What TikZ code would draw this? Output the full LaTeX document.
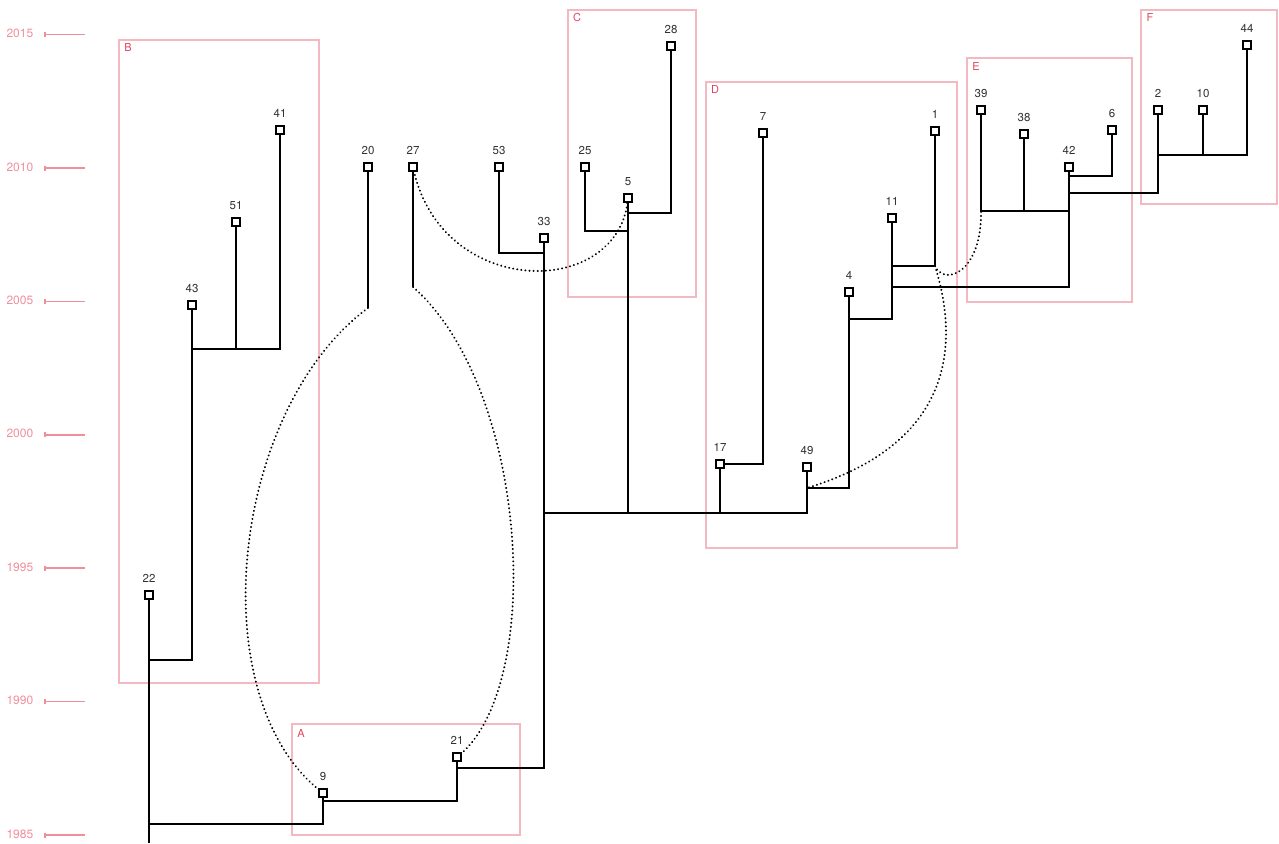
\documentclass[tikz,border=0pt]{standalone}
\usepackage{fontspec}
\setmainfont{TeX Gyre Heros}
\usepackage{tikz}
\definecolor{boxpink}{HTML}{F4B8C0}
\definecolor{axispink}{HTML}{F08E9C}
\definecolor{tagred}{HTML}{E2445E}
\definecolor{labgray}{HTML}{333333}

\begin{document}
\begin{tikzpicture}[x=1pt,y=-1pt,line width=1.6pt,
  leaf/.style={draw,fill=white,minimum size=8.5pt,inner sep=0pt,line width=1.6pt,
    label={[font=\fontsize{11.5}{12}\selectfont,text=labgray,label distance=3pt]above:#1}},
  grp/.style={draw=boxpink,line width=1.8pt},
  tag/.style={text=tagred,font=\fontsize{11}{12}\selectfont,inner sep=0pt},
  yrlab/.style={text=axispink,font=\fontsize{12}{13}\selectfont,anchor=east,inner sep=0pt},
  link/.style={dash pattern=on 0.1pt off 4pt,line cap=round,line width=2.1pt}]
\useasboundingbox (0,0) rectangle (1279,843);
% year axis
\foreach \yr in {1985,1990,...,2015} {
  \coordinate (t\yr) at (45,{835-(\yr-1985)*26.68});
  \node[yrlab] (y\yr) at (34,{834-(\yr-1985)*26.68}) {\yr};
  \draw[axispink,line width=1.6pt] (t\yr) -- ++(40,0);
  \draw[axispink,line width=1.2pt] (t\yr) ++(0,-2.5) -- ++(0,5);
}
% groups
\draw[grp] (292,724) rectangle (520,835); \node[tag] (tA) at (301,733) {A};
\draw[grp] (119,40) rectangle (319,683); \node[tag] (tB) at (128,47) {B};
\draw[grp] (568,10) rectangle (696,297); \node[tag] (tC) at (577,17) {C};
\draw[grp] (706,82) rectangle (957,548); \node[tag] (tD) at (715,89) {D};
\draw[grp] (967,58) rectangle (1132,302); \node[tag] (tE) at (976,66) {E};
\draw[grp] (1141,10) rectangle (1277,204); \node[tag] (tF) at (1150,17) {F};
% junctions
\coordinate (root) at (149,843);
\coordinate (j43) at (149,660); \coordinate (j41) at (280,349);
\coordinate (j9) at (149,824); \coordinate (j21) at (323,801);
\coordinate (j33) at (457,768); \coordinate (j53) at (544,253);
\coordinate (jmid) at (544,513);
\coordinate (j25) at (628,231); \coordinate (j28) at (628,213);
\coordinate (j4) at (807,488); \coordinate (j11) at (849,319);
\coordinate (j1) at (892,266); \coordinate (j42) at (892,287);
\coordinate (jE) at (1069,211); \coordinate (j6) at (1069,176);
\coordinate (jF) at (1069,193); \coordinate (j44) at (1158,155);
\coordinate (e1) at (935,266);
\coordinate (e20) at (368,308); \coordinate (e27) at (413,287);
% dotted links
\draw[link] (e20) .. controls (230,410) and (200,700) .. (323,793);
\draw[link] (e27) .. controls (530,390) and (545,690) .. (457,757);
\draw[link] (413,167) .. controls (440,300) and (620,300) .. (628,198);
\draw[link] (e1) .. controls (945,287) and (982,272) .. (981,211);
\draw[link] (e1) .. controls (955,330) and (965,440) .. (j4);
% leaves
\node[leaf=22] (n22) at (149,595) {};
\node[leaf=43] (n43) at (192,305) {};
\node[leaf=51] (n51) at (236,222) {};
\node[leaf=41] (n41) at (280,130) {};
\node[leaf=20] (n20) at (368,167) {};
\node[leaf=27] (n27) at (413,167) {};
\node[leaf=53] (n53) at (499,167) {};
\node[leaf=33] (n33) at (544,238) {};
\node[leaf=25] (n25) at (585,167) {};
\node[leaf=5] (n5) at (628,198) {};
\node[leaf=28] (n28) at (671,46) {};
\node[leaf=7] (n7) at (763,133) {};
\node[leaf=1] (n1) at (935,131) {};
\node[leaf=11] (n11) at (892,218) {};
\node[leaf=4] (n4) at (849,292) {};
\node[leaf=17] (n17) at (720,464) {};
\node[leaf=49] (n49) at (807,467) {};
\node[leaf=39] (n39) at (981,110) {};
\node[leaf=38] (n38) at (1024,134) {};
\node[leaf=42] (n42) at (1069,167) {};
\node[leaf=6] (n6) at (1112,130) {};
\node[leaf=2] (n2) at (1158,110) {};
\node[leaf=10] (n10) at (1203,110) {};
\node[leaf=44] (n44) at (1247,45) {};
\node[leaf=9] (n9) at (323,793) {};
\node[leaf=21] (n21) at (457,757) {};
% tree
\draw (n22) -- (root);
\draw (j43) -| (n43);
\draw (n41) |- (n43 |- j41) -- (n43);
\draw (n51) -- (n51 |- j41);
\draw (j9) -| (n9);
\draw (j21) -| (n21);
\draw (j33) -| (n33);
\draw (n53) |- (j53);
\draw (jmid) -| (n49);
\draw (n5) -- (n5 |- jmid);
\draw (n17) -- (n17 |- jmid);
\draw (n25) |- (j25);
\draw (n28) |- (j28);
\draw (n7) |- (n17);
\draw (j4) -| (n4);
\draw (j11) -| (n11);
\draw (j1) -| (n1);
\draw (j42) -| (n42);
\draw (n39) |- (jE);
\draw (n38) -- (n38 |- jE);
\draw (j6) -| (n6);
\draw (jF) -| (n2);
\draw (j44) -| (n44);
\draw (n10) -- (n10 |- j44);
\draw (n20) -- (e20);
\draw (n27) -- (e27);
\end{tikzpicture}
\end{document}
